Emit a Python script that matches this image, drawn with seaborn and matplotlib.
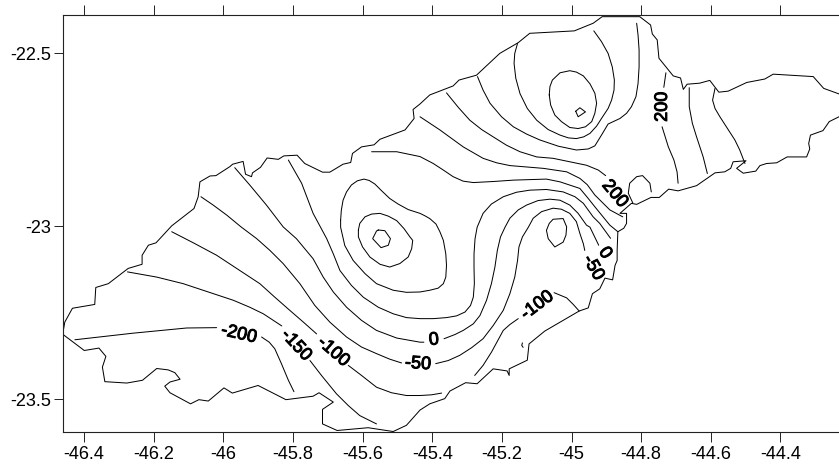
import numpy as np
import matplotlib
matplotlib.use("Agg")
import matplotlib.pyplot as plt
import matplotlib.patheffects as pe
import seaborn as sns

x_ticks = [-46.4, -46.2, -46, -45.8, -45.6, -45.4, -45.2, -45, -44.8, -44.6, -44.4]
y_ticks = [-22.5, -23, -23.5]

coast_north = [(-46.461,-23.312),(-46.455,-23.277),(-46.433,-23.237),(-46.369,-23.226),(-46.366,-23.177),(-46.330,-23.166),
 (-46.273,-23.122),(-46.233,-23.110),(-46.233,-23.084),(-46.215,-23.055),(-46.193,-23.048),(-46.148,-22.999),(-46.084,-22.949),
 (-46.072,-22.915),(-46.067,-22.872),(-46.038,-22.855),(-46.021,-22.854),(-45.981,-22.828),(-45.973,-22.821),(-45.943,-22.813),
 (-45.936,-22.850),(-45.919,-22.857),(-45.916,-22.846),(-45.893,-22.830),(-45.874,-22.803),(-45.842,-22.807),(-45.826,-22.797),
 (-45.788,-22.795),(-45.766,-22.819),(-45.715,-22.844),(-45.694,-22.844),(-45.656,-22.821),(-45.634,-22.816),(-45.629,-22.790),
 (-45.603,-22.771),(-45.567,-22.765),(-45.550,-22.749),(-45.478,-22.722),(-45.452,-22.689),(-45.455,-22.663),(-45.435,-22.647),
 (-45.407,-22.621),(-45.340,-22.595),(-45.323,-22.578),(-45.273,-22.564),(-45.206,-22.501),(-45.153,-22.470),(-45.120,-22.443),
 (-44.992,-22.436),(-44.938,-22.414),(-44.912,-22.395),(-44.804,-22.395),(-44.773,-22.419),(-44.768,-22.445),(-44.754,-22.462),
 (-44.749,-22.515),(-44.708,-22.566),(-44.687,-22.572),(-44.679,-22.605),(-44.668,-22.590),(-44.632,-22.587),(-44.603,-22.579),
 (-44.577,-22.613),(-44.550,-22.610),(-44.497,-22.585),(-44.445,-22.575),(-44.421,-22.561),(-44.306,-22.568),(-44.276,-22.602),
 (-44.232,-22.618)]
coast_south = [(-44.232,-22.684),(-44.260,-22.698),(-44.278,-22.724),(-44.314,-22.737),(-44.319,-22.761),(-44.316,-22.777),
 (-44.325,-22.800),(-44.381,-22.800),(-44.411,-22.817),(-44.440,-22.819),(-44.459,-22.825),(-44.471,-22.841),(-44.507,-22.847),
 (-44.526,-22.833),(-44.499,-22.811),(-44.536,-22.814),(-44.543,-22.833),(-44.560,-22.843),(-44.588,-22.846),(-44.641,-22.883),
 (-44.694,-22.898),(-44.721,-22.893),(-44.748,-22.917),(-44.772,-22.917),(-44.813,-22.937),(-44.828,-22.934),(-44.861,-22.963),
 (-44.842,-22.963),(-44.842,-22.992),(-44.850,-23.006),(-44.867,-23.016),(-44.869,-23.069),(-44.869,-23.099),(-44.875,-23.113),
 (-44.882,-23.155),(-44.904,-23.150),(-44.919,-23.181),(-44.940,-23.195),(-44.952,-23.236),(-44.978,-23.245),(-45.077,-23.303),
 (-45.122,-23.340),(-45.127,-23.387),(-45.179,-23.412),(-45.179,-23.431),(-45.185,-23.418),(-45.225,-23.412),(-45.271,-23.455),
 (-45.304,-23.452),(-45.349,-23.476),(-45.364,-23.498),(-45.407,-23.513),(-45.435,-23.531),(-45.474,-23.575),(-45.512,-23.593),
 (-45.584,-23.582),(-45.673,-23.590),(-45.715,-23.571),(-45.715,-23.529),(-45.684,-23.508),(-45.725,-23.481),(-45.742,-23.491),
 (-45.820,-23.501),(-45.900,-23.460),(-45.974,-23.482),(-45.998,-23.467),(-46.043,-23.505),(-46.070,-23.501),(-46.094,-23.513),
 (-46.153,-23.481),(-46.168,-23.462),(-46.153,-23.450),(-46.124,-23.442),(-46.139,-23.423),(-46.158,-23.415),(-46.191,-23.411),
 (-46.232,-23.445),(-46.277,-23.453),(-46.340,-23.449),(-46.347,-23.407),(-46.337,-23.376),(-46.357,-23.352),(-46.399,-23.359),
 (-46.461,-23.312)]

m200_w = [(-46.426,-23.328),(-46.259,-23.309),(-46.105,-23.294),(-46.019,-23.293)]
m200_e = [(-45.890,-23.320),(-45.868,-23.335),(-45.852,-23.354),(-45.833,-23.397),(-45.813,-23.445),(-45.797,-23.478)]
m150_w = [(-46.275,-23.132),(-46.191,-23.147),(-46.115,-23.166),(-46.043,-23.190),(-45.971,-23.214),(-45.924,-23.234),
 (-45.885,-23.253),(-45.832,-23.288)]
m150_e = [(-45.751,-23.388),(-45.718,-23.431),(-45.675,-23.484),(-45.641,-23.518),(-45.608,-23.547),(-45.560,-23.571)]
m100_w = [(-46.148,-23.016),(-46.086,-23.048),(-46.019,-23.084),(-45.957,-23.125),(-45.895,-23.166),(-45.852,-23.205),
 (-45.809,-23.243),(-45.770,-23.277),(-45.732,-23.311)]
m100_e = [(-45.641,-23.402),(-45.603,-23.431),(-45.560,-23.465),(-45.517,-23.481),(-45.474,-23.489),(-45.435,-23.489),
 (-45.402,-23.487),(-45.373,-23.482)]
m50_w = [(-46.064,-22.915),(-46.029,-22.939),(-45.990,-22.968),(-45.949,-23.002),(-45.904,-23.036),(-45.866,-23.070),
 (-45.828,-23.108),(-45.780,-23.166),(-45.737,-23.229),(-45.694,-23.277),(-45.646,-23.320),(-45.603,-23.349),(-45.560,-23.368),
 (-45.522,-23.384),(-45.488,-23.395)]
m50_e = [(-45.390,-23.397),(-45.354,-23.388),(-45.321,-23.373),(-45.287,-23.351),(-45.254,-23.325),(-45.225,-23.287),
 (-45.196,-23.243),(-45.177,-23.195),(-45.163,-23.147),(-45.155,-23.099),(-45.151,-23.060),(-45.141,-23.031),(-45.124,-23.003),
 (-45.110,-22.977),(-45.086,-22.958),(-45.053,-22.948),(-45.029,-22.951),(-45.005,-22.963),(-44.986,-22.987),(-44.976,-23.021),
 (-44.966,-23.051),(-44.962,-23.070)]
zero_w = [(-45.967,-22.831),(-45.924,-22.881),(-45.876,-22.939),(-45.828,-23.002),(-45.790,-23.036),(-45.742,-23.094),
 (-45.713,-23.147),(-45.684,-23.190),(-45.646,-23.234),(-45.603,-23.272),(-45.560,-23.301),(-45.502,-23.323),(-45.435,-23.335),
 (-45.424,-23.335)]
zero_e = [(-45.366,-23.325),(-45.335,-23.313),(-45.311,-23.301),(-45.282,-23.282),(-45.263,-23.258),(-45.244,-23.214),
 (-45.230,-23.166),(-45.220,-23.118),(-45.213,-23.070),(-45.204,-23.031),(-45.191,-23.003),(-45.177,-22.977),(-45.153,-22.953),
 (-45.129,-22.939),(-45.096,-22.926),(-45.062,-22.922),(-45.033,-22.925),(-45.005,-22.939),(-44.981,-22.963),(-44.957,-22.997),
 (-44.947,-23.003),(-44.922,-23.055)]
p50 = [(-45.813,-22.809),(-45.775,-22.876),(-45.742,-22.963),(-45.703,-23.036),(-45.684,-23.080),(-45.665,-23.128),
 (-45.632,-23.171),(-45.598,-23.205),(-45.555,-23.234),(-45.512,-23.253),(-45.474,-23.264),(-45.435,-23.267),(-45.397,-23.267),
 (-45.359,-23.264),(-45.330,-23.259),(-45.306,-23.248),(-45.290,-23.229),(-45.282,-23.205),(-45.279,-23.166),(-45.280,-23.118),
 (-45.280,-23.080),(-45.277,-23.036),(-45.271,-23.003),(-45.254,-22.963),(-45.230,-22.936),(-45.196,-22.915),(-45.158,-22.902),
 (-45.120,-22.896),(-45.072,-22.894),(-45.024,-22.901),(-44.990,-22.915),(-44.966,-22.934),(-44.938,-22.973),(-44.919,-22.992),
 (-44.888,-23.035)]
p100 = [(-45.574,-22.785),(-45.502,-22.785),(-45.435,-22.799),(-45.397,-22.819),(-45.368,-22.838),(-45.340,-22.857),
 (-45.311,-22.870),(-45.282,-22.874),(-45.225,-22.871),(-45.167,-22.867),(-45.072,-22.864),(-45.033,-22.872),(-44.976,-22.891),
 (-44.952,-22.920),(-44.933,-22.944),(-44.890,-22.997),(-44.867,-23.016)]
p150 = [(-45.435,-22.684),(-45.378,-22.722),(-45.311,-22.771),(-45.254,-22.804),(-45.215,-22.817),(-45.177,-22.825),
 (-45.081,-22.833),(-45.014,-22.843),(-44.976,-22.862),(-44.955,-22.880),(-44.933,-22.910),(-44.890,-22.953),(-44.853,-22.973)]
p200 = [(-45.359,-22.615),(-45.325,-22.657),(-45.292,-22.694),(-45.258,-22.721),(-45.225,-22.742),(-45.187,-22.766),
 (-45.148,-22.785),(-45.100,-22.800),(-45.053,-22.804),(-45.005,-22.814),(-44.957,-22.824),(-44.923,-22.838),(-44.902,-22.854)]
loop_a = [(-45.663,-22.983),(-45.661,-22.954),(-45.656,-22.925),(-45.646,-22.901),(-45.632,-22.881),(-45.615,-22.869),
 (-45.596,-22.864),(-45.581,-22.868),(-45.565,-22.878),(-45.545,-22.898),(-45.522,-22.920),(-45.498,-22.936),(-45.469,-22.952),
 (-45.435,-22.963),(-45.421,-22.970),(-45.407,-22.978),(-45.389,-22.994),(-45.378,-23.016),(-45.368,-23.041),(-45.361,-23.080),
 (-45.359,-23.113),(-45.361,-23.147),(-45.368,-23.166),(-45.383,-23.179),(-45.407,-23.185),(-45.435,-23.190),(-45.474,-23.191),
 (-45.512,-23.185),(-45.560,-23.166),(-45.593,-23.137),(-45.627,-23.099),(-45.651,-23.056),(-45.663,-23.003),(-45.663,-22.983)]
loop_b = [(-45.612,-23.011),(-45.608,-22.992),(-45.593,-22.973),(-45.574,-22.965),(-45.550,-22.963),(-45.526,-22.971),
 (-45.502,-22.984),(-45.481,-23.007),(-45.464,-23.031),(-45.456,-23.041),(-45.459,-23.065),(-45.469,-23.089),(-45.493,-23.108),
 (-45.522,-23.118),(-45.550,-23.110),(-45.579,-23.089),(-45.600,-23.060),(-45.612,-23.031),(-45.612,-23.011)]
loop_c = [(-45.555,-23.011),(-45.536,-23.013),(-45.520,-23.036),(-45.526,-23.055),(-45.547,-23.062),(-45.571,-23.036),
 (-45.560,-23.014),(-45.555,-23.011)]
loop_d = [(-45.072,-23.012),(-45.064,-22.992),(-45.053,-22.980),(-45.024,-22.978),(-45.014,-23.002),(-45.016,-23.026),
 (-45.024,-23.046),(-45.048,-23.060),(-45.067,-23.036),(-45.072,-23.012)]
arc_bay = [(-44.824,-22.933),(-44.837,-22.905),(-44.833,-22.876),(-44.813,-22.857),(-44.796,-22.854),(-44.775,-22.876),(-44.771,-22.901)]
m100b_w = [(-45.278,-23.431),(-45.254,-23.402),(-45.230,-23.364),(-45.196,-23.301),(-45.177,-23.284),(-45.153,-23.267)]
m100b_e = [(-45.050,-23.192),(-45.014,-23.207),(-44.995,-23.226),(-44.978,-23.245)]
tiny = [(-45.141,-23.337),(-45.143,-23.344),(-45.139,-23.350)]
up_a = [(-45.270,-22.568),(-45.254,-22.607),(-45.234,-22.645),(-45.201,-22.684),(-45.167,-22.713),(-45.129,-22.734),
 (-45.091,-22.751),(-45.038,-22.769),(-44.986,-22.780),(-44.952,-22.777),(-44.933,-22.768),(-44.914,-22.737),(-44.895,-22.705),
 (-44.861,-22.689),(-44.842,-22.674),(-44.828,-22.655),(-44.815,-22.626),(-44.809,-22.588),(-44.806,-22.540),(-44.806,-22.491),
 (-44.809,-22.448),(-44.813,-22.414)]
up_b = [(-45.155,-22.472),(-45.163,-22.501),(-45.165,-22.530),(-45.160,-22.573),(-45.148,-22.617),(-45.127,-22.660),
 (-45.100,-22.694),(-45.067,-22.721),(-45.033,-22.737),(-45.009,-22.745),(-44.986,-22.747),(-44.965,-22.742),(-44.947,-22.732),
 (-44.928,-22.711),(-44.914,-22.689),(-44.895,-22.660),(-44.885,-22.636),(-44.878,-22.607),(-44.877,-22.578),(-44.883,-22.540),
 (-44.895,-22.501),(-44.914,-22.467),(-44.936,-22.436)]
up_c = [(-45.064,-22.621),(-45.062,-22.597),(-45.055,-22.578),(-45.033,-22.557),(-45.005,-22.551),(-44.986,-22.555),
 (-44.966,-22.566),(-44.947,-22.589),(-44.933,-22.616),(-44.928,-22.645),(-44.933,-22.674),(-44.942,-22.698),(-44.960,-22.713),
 (-44.981,-22.718),(-45.005,-22.715),(-45.029,-22.698),(-45.048,-22.679),(-45.060,-22.650),(-45.064,-22.621)]
up_d = [(-44.988,-22.668),(-44.976,-22.658),(-44.960,-22.670),(-44.981,-22.684),(-44.988,-22.668)]
east_a1 = [(-44.729,-22.557),(-44.735,-22.599)]
east_a2 = [(-44.740,-22.713),(-44.722,-22.771),(-44.706,-22.809),(-44.697,-22.843),(-44.694,-22.876)]
east_b = [(-44.662,-22.600),(-44.662,-22.655),(-44.653,-22.703),(-44.641,-22.742),(-44.622,-22.800),(-44.610,-22.848)]
east_c = [(-44.588,-22.602),(-44.595,-22.636),(-44.588,-22.660),(-44.574,-22.684),(-44.531,-22.751),(-44.517,-22.780),(-44.502,-22.819)]

all_lines = [coast_north, coast_south, m200_w, m200_e, m150_w, m150_e, m100_w, m100_e, m50_w, m50_e, zero_w, zero_e,
             p50, p100, p150, p200, loop_a, loop_b, loop_c, loop_d, arc_bay, m100b_w, m100b_e, tiny,
             up_a, up_b, up_c, up_d, east_a1, east_a2, east_b, east_c]

label_text = ["-200", "-150", "-100", "-50", "0", "-100", "-50", "0", "200", "200"]
label_lon = [-45.955, -45.791, -45.684, -45.441, -45.395, -45.098, -44.938, -44.904, -44.876, -44.739]
label_lat = [-23.312, -23.344, -23.363, -23.398, -23.329, -23.229, -23.120, -23.078, -22.907, -22.655]
label_rot = [-13, -47, -41, -4, 5, 37, -60, -55, -50, 90]

sns.set_style("ticks")
plt.rcParams["font.family"] = ["Liberation Sans", "DejaVu Sans"]

W, H = 839, 467
fig = plt.figure(figsize=(W / 100, H / 100), dpi=100)
ax = fig.add_axes([62.7 / W, (H - 431.7) / H, (W - 62.7) / W, (431.7 - 15.3) / H])

for line in all_lines:
    lon, lat = zip(*line)
    sns.lineplot(x=np.array(lon), y=np.array(lat), sort=False, estimator=None, color="black",
                 linewidth=0.72, ax=ax, legend=False, errorbar=None)

for t, lo, la, r in zip(label_text, label_lon, label_lat, label_rot):
    ax.text(lo, la, t, rotation=r, rotation_mode="anchor", ha="center", va="center", fontsize=13,
            color="black", path_effects=[pe.withStroke(linewidth=0.7, foreground="black")])

ax.set_xlim(-46.461, -44.232)
ax.set_ylim(-23.5935, -22.391)
ax.set_xticks(x_ticks)
ax.set_xticklabels([f"{v:g}" for v in x_ticks])
ax.set_yticks(y_ticks)
ax.set_yticklabels([f"{v:g}" for v in y_ticks])
ax.set_xlabel("")
ax.set_ylabel("")
ax.tick_params(axis="x", which="both", top=True, bottom=True, direction="out", length=7, width=0.7,
               labelsize=13.1, pad=3, color="#222222", labelcolor="black")
ax.tick_params(axis="y", which="both", left=True, right=False, direction="out", length=6.5, width=0.7,
               labelsize=13.1, pad=2, color="#222222", labelcolor="black")
for side in ["top", "bottom", "left"]:
    ax.spines[side].set_linewidth(0.8)
    ax.spines[side].set_color("#222222")
ax.spines["right"].set_visible(False)

fig.savefig("out.png", dpi=100)
